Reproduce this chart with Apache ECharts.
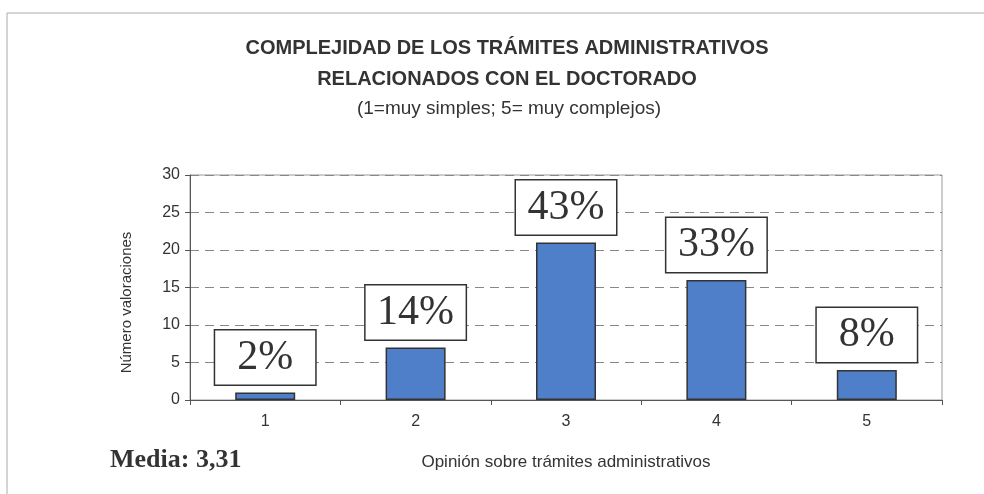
<!DOCTYPE html>
<html>
<head>
<meta charset="utf-8">
<script src="https://cdn.jsdelivr.net/npm/echarts@6/dist/echarts.min.js"></script>
<style>
  html, body { margin: 0; padding: 0; background: #fff; }
  #chart { width: 984px; height: 494px; }
</style>
</head>
<body>
<div id="chart"></div>
<script>
// opinion scale 1..5 and the number of ratings for each
const categories = ["1", "2", "3", "4", "5"];
const valoraciones = [1, 7, 21, 16, 4];
const porcentajes = ["2%", "14%", "43%", "33%", "8%"];
const yTicks = [0, 5, 10, 15, 20, 25, 30];

const chart = echarts.init(document.getElementById("chart"));

const sans = "'Liberation Sans', Arial, sans-serif";

chart.setOption({
  animation: false,
  title: [
    {
      text: "COMPLEJIDAD DE LOS TRÁMITES ADMINISTRATIVOS\nRELACIONADOS CON EL DOCTORADO",
      left: 502,
      top: 28,
      textAlign: "center",
      textStyle: {
        fontFamily: sans,
        fontWeight: "bold",
        fontSize: 20,
        lineHeight: 31,
        color: "#333"
      }
    },
    {
      text: "(1=muy simples; 5= muy complejos)",
      left: 504,
      top: 94,
      textAlign: "center",
      textStyle: {
        fontFamily: sans,
        fontWeight: "normal",
        fontSize: 19,
        color: "#333"
      }
    }
  ],
  graphic: [
    {
      type: "rect",
      shape: { x: 7, y: 13, width: 1000, height: 520 },
      style: { fill: "none", stroke: "#aaa", lineWidth: 1 },
      silent: true
    },
    {
      type: "text",
      left: 110,
      top: 447,
      style: {
        text: "Media: 3,31",
        font: "bold 26px 'Liberation Serif', 'Times New Roman', serif",
        fill: "#333"
      }
    }
  ],
  grid: {
    left: 190,
    right: 42,
    top: 175,
    bottom: 94,
    show: true,
    borderColor: "#999",
    borderWidth: 1
  },
  xAxis: {
    type: "category",
    data: categories,
    name: "Opinión sobre trámites administrativos",
    nameLocation: "middle",
    nameGap: 54,
    nameTextStyle: { fontFamily: sans, fontSize: 17, color: "#333" },
    axisLine: { lineStyle: { color: "#555", width: 1 } },
    axisTick: { show: true, length: 5, alignWithLabel: false, lineStyle: { color: "#555" } },
    axisLabel: { margin: 14, fontFamily: sans, fontSize: 16, color: "#333" }
  },
  yAxis: {
    type: "value",
    min: yTicks[0],
    max: yTicks[yTicks.length - 1],
    interval: 5,
    name: "Número valoraciones",
    nameLocation: "middle",
    nameGap: 56,
    nameTextStyle: { fontFamily: sans, fontSize: 15, color: "#333", padding: [0, 0, 0, -30] },
    axisLine: { show: true, lineStyle: { color: "#555", width: 1 } },
    axisTick: { show: true, length: 5, lineStyle: { color: "#555" } },
    axisLabel: { margin: 10, fontFamily: sans, fontSize: 16, color: "#333" },
    splitLine: { show: true, lineStyle: { color: "#888", type: [9, 6], width: 1 } }
  },
  series: [
    {
      type: "bar",
      data: valoraciones,
      barWidth: 60,
      itemStyle: { color: "#4f7fc9", borderColor: "#333", borderWidth: 1.5 },
      label: {
        show: true,
        position: "top",
        distance: 8,
        formatter: (p) => porcentajes[p.dataIndex],
        fontFamily: "'Liberation Serif', 'Times New Roman', serif",
        fontSize: 42,
        color: "#333",
        backgroundColor: "#fff",
        borderColor: "#333",
        borderWidth: 1.5,
        width: 100,
        height: 54,
        lineHeight: 54,
        align: "center",
        padding: 0
      }
    }
  ]
});
</script>
</body>
</html>
